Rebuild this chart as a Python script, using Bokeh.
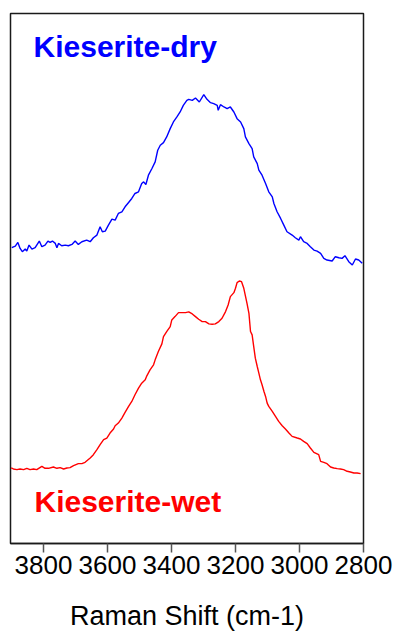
from bokeh.plotting import figure
from bokeh.models import Range1d, FixedTicker, Label
from bokeh.embed import file_html
from bokeh.resources import INLINE

# Raman shift (cm-1) and intensity (a.u.)
dry_shift = [3899, 3888, 3880, 3873, 3866, 3857, 3852, 3845, 3836, 3826, 3813, 3805, 3795, 3786, 3779, 3772,
             3763, 3758, 3753, 3743, 3732, 3722, 3711, 3701, 3691, 3680, 3665, 3654, 3644, 3633, 3623, 3616,
             3607, 3597, 3586, 3576, 3566, 3555, 3545, 3534, 3524, 3514, 3503, 3493, 3487, 3480, 3472, 3461,
             3451, 3443, 3435, 3425, 3415, 3404, 3394, 3383, 3373, 3363, 3352,
             3346, 3335, 3325, 3313, 3299, 3289, 3278, 3268, 3257, 3254, 3247, 3236, 3226, 3216, 3205, 3195,
             3184, 3174, 3169, 3158, 3148, 3143, 3132, 3127, 3117, 3106, 3096, 3085, 3080, 3070, 3059, 3049,
             3039, 3023, 3013, 3002, 2997, 2987, 2976, 2966, 2955, 2945, 2934, 2924, 2914, 2898, 2888, 2877,
             2867, 2858, 2846, 2835, 2825, 2815, 2804]
dry_int = [889, 894, 905, 887, 877, 885, 879, 897, 885, 889, 909, 892, 897, 909, 905, 909,
           902, 889, 902, 895, 897, 895, 899, 909, 899, 907, 912, 907, 919, 927, 952, 937,
           939, 957, 975, 972, 992, 997, 1012, 1025, 1037, 1052, 1057, 1082, 1087, 1079, 1107, 1127,
           1147, 1182, 1197, 1205, 1222, 1247, 1267, 1282, 1297, 1317, 1332,
           1335, 1332, 1339, 1327, 1349, 1335, 1325, 1322, 1317, 1302, 1319, 1312, 1307, 1312, 1297, 1277,
           1267, 1247, 1222, 1202, 1187, 1162, 1142, 1122, 1107, 1082, 1057, 1042, 1022, 997, 977, 957,
           937, 927, 919, 912, 922, 907, 902, 892, 882, 879, 872, 857, 852, 849, 862, 859,
           857, 865, 847, 837, 855, 852, 842]

wet_shift = [3901, 3894, 3883, 3873, 3862, 3852, 3842, 3831, 3821, 3805, 3795, 3784, 3769, 3758, 3748, 3737,
             3727, 3717, 3706, 3691, 3680, 3670, 3654, 3644, 3633, 3623, 3612, 3602, 3592, 3581, 3576, 3566,
             3555, 3545, 3534, 3524, 3514, 3503, 3493, 3482, 3477, 3467, 3456, 3451, 3441, 3430, 3425, 3415,
             3404, 3399, 3389, 3378, 3368,
             3356, 3346, 3335, 3325, 3315, 3304, 3294, 3283, 3273, 3263, 3252, 3242, 3231, 3223, 3216, 3205,
             3200, 3195, 3188, 3181, 3174, 3169, 3164, 3158, 3153, 3148, 3143, 3138, 3132, 3127, 3122, 3117,
             3111, 3106, 3101, 3096, 3085, 3075, 3065, 3054, 3044, 3033, 3023, 3007, 2997, 2987, 2976, 2966,
             2955, 2940, 2934, 2924, 2914, 2903, 2893, 2882, 2872, 2862, 2851, 2841, 2830, 2820, 2809]
wet_int = [227, 224, 222, 224, 222, 226, 222, 224, 222, 232, 226, 226, 230, 226, 228, 224,
           227, 228, 234, 240, 240, 244, 257, 267, 282, 297, 312, 317, 332, 344, 354, 362,
           377, 394, 412, 427, 447, 467, 482, 492, 504, 522, 537, 552, 577, 600, 622, 637,
           652, 672, 682, 694, 694,
           694, 696, 690, 682, 674, 667, 667, 660, 659, 660, 667, 677, 697, 717, 742, 754,
           767, 784, 789, 787, 767, 744, 722, 692, 637, 627, 592, 557, 532, 512, 492, 477,
           457, 442, 422, 412, 397, 382, 367, 354, 344, 332, 322, 317, 314, 307, 300, 287,
           274, 267, 247, 244, 240, 230, 227, 225, 224, 222, 217, 215, 212, 212, 210]

x_ticks = [3800, 3600, 3400, 3200, 3000, 2800]
x_label = "Raman Shift (cm-1)"
labels = ["Kieserite-dry", "Kieserite-wet"]

p = figure(width=400, height=633, output_backend="svg", toolbar_location=None,
           x_range=Range1d(3903, 2800), y_range=Range1d(0, 1593),
           min_border_left=10, min_border_top=13, min_border_right=37, min_border_bottom=89)

p.line(dry_shift, dry_int, line_color="#0000ff", line_width=1.4)
p.line(wet_shift, wet_int, line_color="#ff0000", line_width=1.4)

p.xgrid.visible = False
p.ygrid.visible = False
p.yaxis.visible = False
p.outline_line_color = "#1a1a1a"
p.outline_line_width = 1.5
p.background_fill_color = "white"
p.border_fill_color = "white"

xa = p.xaxis[0]
xa.ticker = FixedTicker(ticks=x_ticks)
xa.axis_line_color = "#1a1a1a"
xa.axis_line_width = 1.5
xa.major_tick_line_color = "#555555"
xa.major_tick_line_width = 1.5
xa.major_tick_in = 0
xa.major_tick_out = 9
xa.minor_tick_line_color = None
xa.major_label_text_font = "Liberation Sans"
xa.major_label_text_font_size = "26px"
xa.major_label_text_color = "black"
xa.major_label_standoff = 3
xa.axis_label = x_label
xa.axis_label_text_font = "Liberation Sans"
xa.axis_label_text_font_size = "27px"
xa.axis_label_text_font_style = "normal"
xa.axis_label_text_color = "black"
xa.axis_label_standoff = 24

p.add_layout(Label(x=3831, y=1494, text=labels[0], text_color="#0000ff",
                   text_font="Liberation Sans", text_font_style="bold", text_font_size="30px",
                   text_baseline="alphabetic", text_align="left"))
p.add_layout(Label(x=3828, y=127, text=labels[1], text_color="#ff0000",
                   text_font="Liberation Sans", text_font_style="bold", text_font_size="30px",
                   text_baseline="alphabetic", text_align="left"))

open("out.html", "w").write(file_html(p, INLINE))
